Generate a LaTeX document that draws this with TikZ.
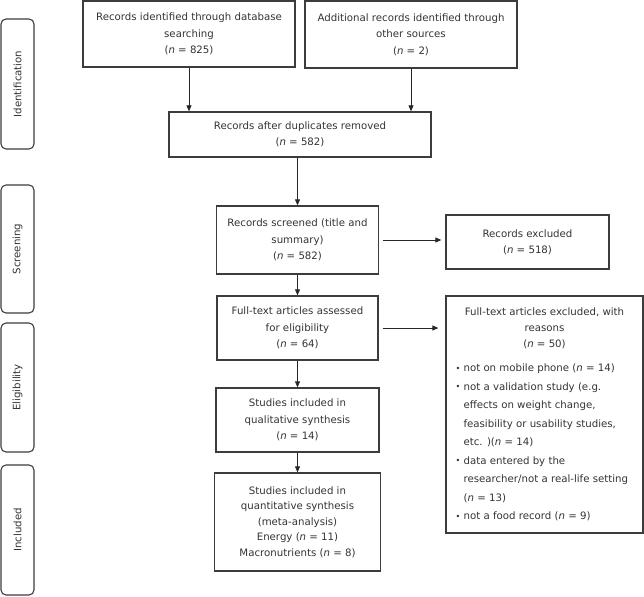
\documentclass[tikz,border=0pt]{standalone}
\usepackage{fontspec}
\setmainfont{DejaVu Sans}
\usetikzlibrary{arrows.meta}
\definecolor{txt}{HTML}{333333}
\definecolor{ln}{HTML}{3C3C3C}
\tikzset{
  box/.style={draw=ln, line width=1.3pt, inner sep=0pt, align=center, text=txt,
    font=\fontsize{10.2}{16.3}\selectfont},
  side/.style={draw=ln, line width=1.1pt, rounded corners=5pt, inner sep=0pt,
    minimum height=33pt, rotate=90, text=txt, font=\fontsize{10.2}{12}\selectfont},
  arr/.style={draw=black!85, line width=0.8pt, -{Triangle[length=6pt,width=5pt]}}
}
\newcommand{\bul}{\raisebox{0.5pt}{\scalebox{0.8}{\textbullet}}\ }
\begin{document}
\begin{tikzpicture}[x=1pt,y=-1pt]
\useasboundingbox (0,0) rectangle (644,596);
% side labels
\node[side, minimum width=130pt] (s1) at (17.5,84) {Identification};
\node[side, minimum width=128pt] (s2) at (17.5,249) {Screening};
\node[side, minimum width=129pt] (s3) at (17.5,387.5) {Eligibility};
\node[side, minimum width=130pt] (s4) at (17.5,530) {Included};
% boxes
\node[box, minimum width=212pt, minimum height=66pt] (A) at (189,34)
  {Records identified through database\\ searching\\ (\textit{n} = 825)};
\node[box, minimum width=212pt, minimum height=67pt] (B) at (411,34.5)
  {Additional records identified through\\ other sources\\ (\textit{n} = 2)};
\node[box, minimum width=262pt, minimum height=45pt] (C) at (300,134.5)
  {Records after duplicates removed\\ (\textit{n} = 582)};
\node[box, minimum width=162pt, minimum height=68pt] (D) at (297.5,240)
  {Records screened (title and\\ summary)\\ (\textit{n} = 582)};
\node[box, minimum width=163pt, minimum height=54pt] (E) at (527.5,242)
  {Records excluded\\ (\textit{n} = 518)};
\node[box, minimum width=161pt, minimum height=64pt] (F) at (297.5,328)
  {Full-text articles assessed\\ for eligibility\\ (\textit{n} = 64)};
\node[box, minimum width=163pt, minimum height=64pt] (G) at (297.5,420)
  {Studies included in\\ qualitative synthesis\\ (\textit{n} = 14)};
\node[box, minimum width=166pt, minimum height=98pt, font=\fontsize{10.2}{15.6}\selectfont] (H) at (297.5,522)
  {Studies included in\\ quantitative synthesis\\ (meta-analysis)\\ Energy (\textit{n} = 11)\\ Macronutrients (\textit{n} = 8)};
\node[box, minimum width=197pt, minimum height=237pt, align=left] (I) at (544.5,414.5)
  {\begin{minipage}{178pt}\fontsize{10.2}{16}\selectfont
   {\centering Full-text articles excluded, with\\ reasons\\ (\textit{n} = 50)\par}
   \vspace{6pt}
   \fontsize{10.2}{18.5}\selectfont\raggedright
   \bul not on mobile phone (\textit{n} = 14)\\
   \bul not a validation study (e.g.\\
   \hphantom{\bul}effects on weight change,\\
   \hphantom{\bul}feasibility or usability studies,\\
   \hphantom{\bul}etc. )(\textit{n} = 14)\\
   \bul data entered by the\\
   \hphantom{\bul}researcher/not a real-life setting\\
   \hphantom{\bul}(\textit{n} = 13)\\
   \bul not a food record (\textit{n} = 9)
   \end{minipage}};
% arrows
\draw[arr] (A.south) -- (A.south |- C.north);
\draw[arr] (B.south) -- (B.south |- C.north);
\draw[arr] (C.south -| D.north) -- (D.north);
\draw[arr] (D.south) -- (F.north);
\draw[arr] (F.south) -- (G.north);
\draw[arr] (G.south) -- (H.north);
\draw[arr, shorten <=4pt, shorten >=4pt] (D.east) -- (D.east -| E.west);
\draw[arr, shorten <=4pt, shorten >=7pt] (F.east) -- (F.east -| I.west);
\end{tikzpicture}
\end{document}
